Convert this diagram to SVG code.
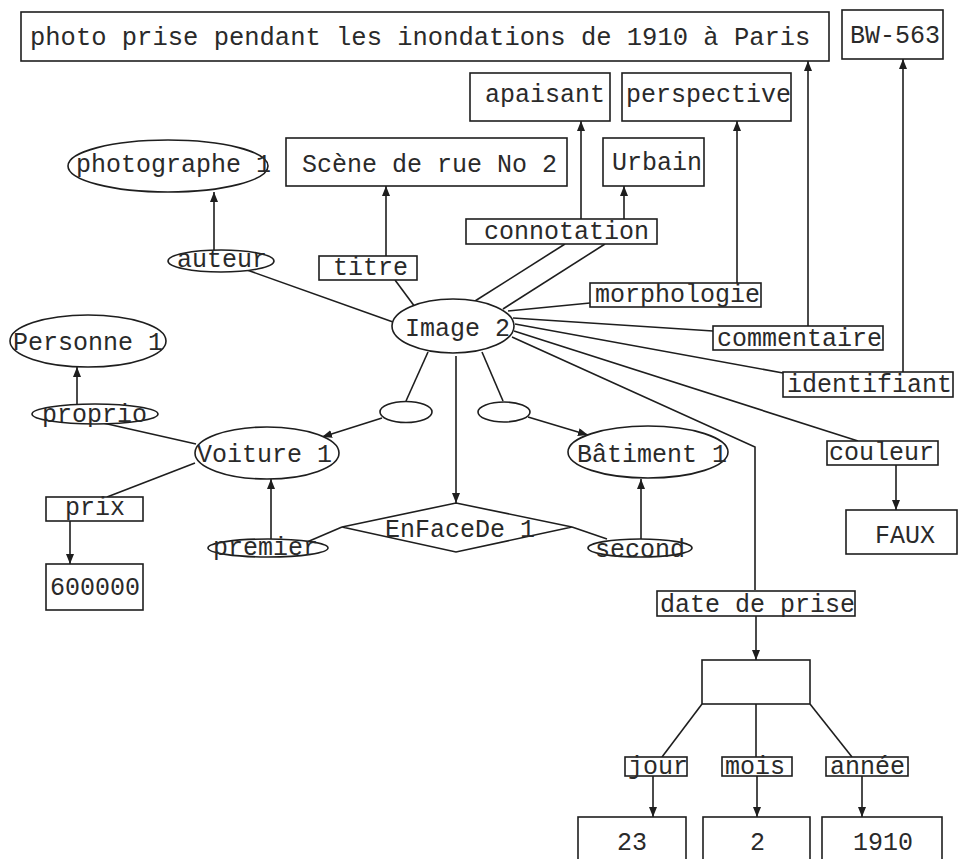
<svg xmlns="http://www.w3.org/2000/svg" width="958" height="859" viewBox="0 0 958 859">
  <style>
    text { font-family: "Liberation Mono", "DejaVu Sans Mono", monospace; font-size: 25px; fill: #2a2a2a; }
    .box, .ell { fill: #ffffff; stroke: #1e1e1e; stroke-width: 1.6; }
    .ln { fill: none; stroke: #1e1e1e; stroke-width: 1.6; }
    .arr { fill: none; stroke: #1e1e1e; stroke-width: 1.6; marker-end: url(#head); }
  </style>
  <defs>
    <marker id="head" markerUnits="userSpaceOnUse" markerWidth="10" markerHeight="8" refX="10" refY="4" orient="auto">
      <path d="M0,0 L10,4 L0,8 z" fill="#1e1e1e"/>
    </marker>
  </defs>
  <rect width="958" height="859" fill="#ffffff"/>

  <!-- connectors -->
  <g id="connectors">
    <line class="ln" x1="247" y1="270" x2="393" y2="322"/>
    <line class="ln" x1="395" y1="280" x2="415" y2="307"/>
    <line class="ln" x1="565" y1="244" x2="475" y2="301"/>
    <line class="ln" x1="605" y1="244" x2="503" y2="309"/>
    <line class="ln" x1="590" y1="303" x2="508" y2="311"/>
    <line class="ln" x1="713" y1="331" x2="513" y2="318"/>
    <line class="ln" x1="783" y1="373" x2="515" y2="324"/>
    <line class="ln" x1="858" y1="441" x2="514" y2="331"/>
    <polyline class="ln" points="512,337 755,447 755,590"/>
    <line class="ln" x1="428" y1="352" x2="406" y2="401"/>
    <line class="ln" x1="482" y1="352" x2="503" y2="401"/>
    <line class="ln" x1="103" y1="423" x2="196" y2="444"/>
    <line class="ln" x1="195" y1="463" x2="107" y2="497"/>
    <line class="ln" x1="307" y1="542" x2="342" y2="527"/>
    <line class="ln" x1="572" y1="527" x2="607" y2="539"/>
    <line class="ln" x1="702" y1="704" x2="662" y2="757"/>
    <line class="ln" x1="756" y1="704" x2="756" y2="757"/>
    <line class="ln" x1="810" y1="704" x2="852" y2="757"/>

    <line class="arr" x1="214" y1="251" x2="214" y2="192"/>
    <line class="arr" x1="386" y1="256" x2="386" y2="186"/>
    <line class="arr" x1="581" y1="219" x2="581" y2="121"/>
    <line class="arr" x1="624" y1="219" x2="624" y2="186"/>
    <line class="arr" x1="737" y1="283" x2="737" y2="121"/>
    <line class="arr" x1="808" y1="326" x2="808" y2="61"/>
    <line class="arr" x1="903" y1="372" x2="903" y2="59"/>
    <line class="arr" x1="896" y1="465" x2="896" y2="510"/>
    <line class="arr" x1="756" y1="616" x2="756" y2="660"/>
    <line class="arr" x1="653" y1="776" x2="653" y2="817"/>
    <line class="arr" x1="757" y1="776" x2="757" y2="817"/>
    <line class="arr" x1="862" y1="776" x2="862" y2="817"/>
    <line class="arr" x1="77" y1="405" x2="77" y2="367"/>
    <line class="arr" x1="70" y1="521" x2="70" y2="564"/>
    <line class="arr" x1="382" y1="418" x2="322" y2="437"/>
    <line class="arr" x1="528" y1="417" x2="588" y2="435"/>
    <line class="arr" x1="456" y1="356" x2="456" y2="503"/>
    <line class="arr" x1="271" y1="540" x2="271" y2="479"/>
    <line class="arr" x1="641" y1="539" x2="641" y2="479"/>
  </g>

  <!-- value boxes -->
  <g id="commentaire-valeur"><rect class="box" x="21" y="12" width="808" height="49"/><text x="30" y="45" style="font-size:25.5px">photo prise pendant les inondations de 1910 à Paris</text></g>
  <g id="bw563"><rect class="box" x="842" y="10" width="101" height="49"/><text x="850" y="43">BW-563</text></g>
  <g id="apaisant"><rect class="box" x="470" y="73" width="140" height="48"/><text x="485" y="102">apaisant</text></g>
  <g id="perspective"><rect class="box" x="622" y="73" width="169" height="48"/><text x="626" y="102">perspective</text></g>
  <g id="urbain"><rect class="box" x="603" y="138" width="101" height="48"/><text x="612" y="170">Urbain</text></g>
  <g id="scene"><rect class="box" x="286" y="138" width="281" height="48"/><text x="302" y="172">Scène de rue No 2</text></g>
  <g id="faux"><rect class="box" x="846" y="510" width="111" height="44"/><text x="875" y="543">FAUX</text></g>
  <g id="v600000"><rect class="box" x="46" y="564" width="97" height="46"/><text x="50" y="595">600000</text></g>
  <g id="date"><rect class="box" x="702" y="660" width="108" height="44"/></g>
  <g id="v23"><rect class="box" x="578" y="817" width="108" height="50"/><text x="617" y="850">23</text></g>
  <g id="v2"><rect class="box" x="703" y="817" width="107" height="50"/><text x="750" y="850">2</text></g>
  <g id="v1910"><rect class="box" x="822" y="817" width="120" height="50"/><text x="853" y="850">1910</text></g>

  <!-- attribute labels -->
  <g id="titre"><rect class="box" x="319" y="256" width="98" height="24"/><text x="333" y="275">titre</text></g>
  <g id="connotation"><rect class="box" x="466" y="219" width="191" height="25"/><text x="484" y="239">connotation</text></g>
  <g id="morphologie"><rect class="box" x="590" y="283" width="171" height="24"/><text x="595" y="302">morphologie</text></g>
  <g id="commentaire"><rect class="box" x="713" y="326" width="170" height="24"/><text x="717" y="346">commentaire</text></g>
  <g id="identifiant"><rect class="box" x="783" y="372" width="170" height="25"/><text x="787" y="392">identifiant</text></g>
  <g id="couleur"><rect class="box" x="827" y="441" width="111" height="24"/><text x="829" y="460">couleur</text></g>
  <g id="date-de-prise"><rect class="box" x="657" y="591" width="198" height="25"/><text x="660" y="612">date de prise</text></g>
  <g id="jour"><rect class="box" x="625" y="757" width="62" height="19"/><text x="628" y="774">jour</text></g>
  <g id="mois"><rect class="box" x="722" y="757" width="70" height="19"/><text x="725" y="774">mois</text></g>
  <g id="annee"><rect class="box" x="826" y="757" width="82" height="19"/><text x="830" y="774">année</text></g>
  <g id="prix"><rect class="box" x="46" y="497" width="97" height="24"/><text x="65" y="515">prix</text></g>

  <!-- entities and roles -->
  <g id="photographe"><ellipse class="ell" cx="168" cy="166" rx="100" ry="26"/><text x="76" y="172">photographe 1</text></g>
  <g id="auteur"><ellipse class="ell" cx="221" cy="261" rx="53" ry="11"/><text x="177" y="267">auteur</text></g>
  <g id="image2"><ellipse class="ell" cx="453" cy="326" rx="61" ry="27"/><text x="405" y="336">Image 2</text></g>
  <g id="personne"><ellipse class="ell" cx="88" cy="341" rx="78" ry="26"/><text x="13" y="350">Personne 1</text></g>
  <g id="proprio"><ellipse class="ell" cx="95" cy="414" rx="63" ry="10"/><text x="42" y="422">proprio</text></g>
  <g id="voiture"><ellipse class="ell" cx="267" cy="453" rx="72" ry="26"/><text x="197" y="462">Voiture 1</text></g>
  <g id="batiment"><ellipse class="ell" cx="648" cy="452" rx="80" ry="26"/><text x="577" y="462">Bâtiment 1</text></g>
  <g id="lien-voiture"><ellipse class="ell" cx="406" cy="412" rx="26" ry="10.5"/></g>
  <g id="lien-batiment"><ellipse class="ell" cx="504" cy="412" rx="26" ry="10"/></g>
  <g id="premier"><ellipse class="ell" cx="268" cy="548" rx="60" ry="9"/><text x="213" y="555">premier</text></g>
  <g id="second"><ellipse class="ell" cx="640" cy="548" rx="52" ry="9"/><text x="595" y="557">second</text></g>
  <g id="enfacede"><polygon class="box" points="456,503 572,527 456,552 342,527"/><text x="385" y="537">EnFaceDe 1</text></g>
</svg>
